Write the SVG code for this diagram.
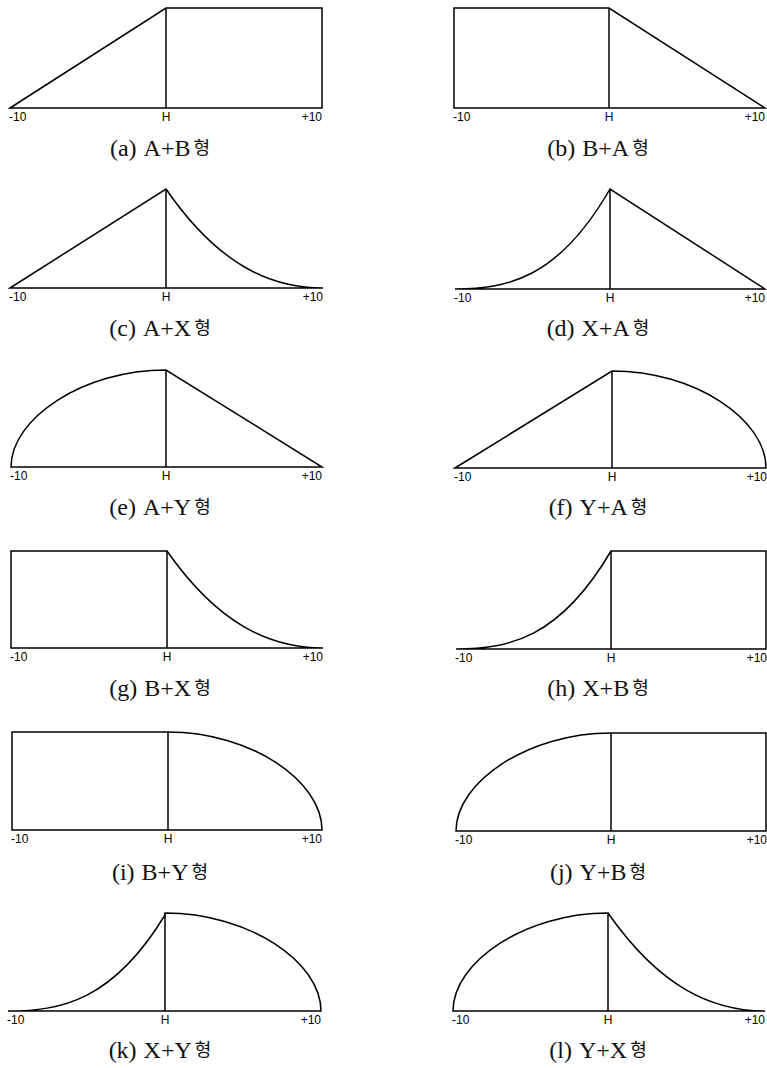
<svg xmlns="http://www.w3.org/2000/svg" width="767" height="1068" viewBox="0 0 767 1068">
<style>
  .shape { fill: none; stroke: #000; stroke-width: 1.5; stroke-linejoin: miter; }
  .hline { fill: none; stroke: #000; stroke-width: 1.5; }
  .ax { font-family: "Liberation Sans", Arial, sans-serif; font-size: 12px; fill: #000; }
  .cap { font-family: "Liberation Serif", "Times New Roman", serif; font-size: 24px; fill: #111; }
  .ko { font-family: "Noto Sans CJK KR", "Noto Sans", sans-serif; font-size: 18px; }
</style>
<rect width="767" height="1068" fill="#fff"/>

<g id="panel-a">
  <path class="shape" d="M10,108 L166,8 L322,8 L322,108 Z"/>
  <path class="hline" d="M166,8 V108"/>
  <text class="ax" x="9" y="121">-10</text>
  <text class="ax" x="166" y="121" text-anchor="middle">H</text>
  <text class="ax" x="322" y="121" text-anchor="end">+10</text>
  <text class="cap" x="160" y="156" text-anchor="middle">(a)<tspan dx="7">A+B</tspan><tspan class="ko" dx="3" dy="-2">형</tspan></text>
</g>

<g id="panel-b">
  <path class="shape" d="M454,108 V8 H609 L765,108 Z"/>
  <path class="hline" d="M609,8 V108"/>
  <text class="ax" x="453" y="121">-10</text>
  <text class="ax" x="609" y="121" text-anchor="middle">H</text>
  <text class="ax" x="765" y="121" text-anchor="end">+10</text>
  <text class="cap" x="598" y="156" text-anchor="middle">(b)<tspan dx="7">B+A</tspan><tspan class="ko" dx="3" dy="-2">형</tspan></text>
</g>

<g id="panel-c">
  <path class="shape" d="M10,288 L166,189 C218.3,265 270.7,288 323,288 Z"/>
  <path class="hline" d="M166,189 V288"/>
  <text class="ax" x="9" y="301">-10</text>
  <text class="ax" x="166" y="301" text-anchor="middle">H</text>
  <text class="ax" x="323" y="301" text-anchor="end">+10</text>
  <text class="cap" x="160" y="336" text-anchor="middle">(c)<tspan dx="7">A+X</tspan><tspan class="ko" dx="3" dy="-2">형</tspan></text>
</g>

<g id="panel-d">
  <path class="shape" d="M455,289 C506.7,289 558.3,279 610,189 L765,289 Z"/>
  <path class="hline" d="M610,189 V289"/>
  <text class="ax" x="454" y="302">-10</text>
  <text class="ax" x="610" y="302" text-anchor="middle">H</text>
  <text class="ax" x="765" y="302" text-anchor="end">+10</text>
  <text class="cap" x="598" y="336" text-anchor="middle">(d)<tspan dx="7">X+A</tspan><tspan class="ko" dx="3" dy="-2">형</tspan></text>
</g>

<g id="panel-e">
  <path class="shape" d="M11,467 C11,418.5 83,370 166,370 L322,467 Z"/>
  <path class="hline" d="M166,370 V467"/>
  <text class="ax" x="10" y="480">-10</text>
  <text class="ax" x="166" y="480" text-anchor="middle">H</text>
  <text class="ax" x="322" y="480" text-anchor="end">+10</text>
  <text class="cap" x="160" y="515" text-anchor="middle">(e)<tspan dx="7">A+Y</tspan><tspan class="ko" dx="3" dy="-2">형</tspan></text>
</g>

<g id="panel-f">
  <path class="shape" d="M455,468 L612,371 C695,371 766,419.5 766,468 Z"/>
  <path class="hline" d="M612,371 V468"/>
  <text class="ax" x="454" y="481">-10</text>
  <text class="ax" x="612" y="481" text-anchor="middle">H</text>
  <text class="ax" x="767" y="481" text-anchor="end">+10</text>
  <text class="cap" x="598" y="515" text-anchor="middle">(f)<tspan dx="7">Y+A</tspan><tspan class="ko" dx="3" dy="-2">형</tspan></text>
</g>

<g id="panel-g">
  <path class="shape" d="M11,648 V551 H167 C219,625.4 271,648 323,648 Z"/>
  <path class="hline" d="M167,551 V648"/>
  <text class="ax" x="10" y="661">-10</text>
  <text class="ax" x="167" y="661" text-anchor="middle">H</text>
  <text class="ax" x="323" y="661" text-anchor="end">+10</text>
  <text class="cap" x="160" y="696" text-anchor="middle">(g)<tspan dx="7">B+X</tspan><tspan class="ko" dx="3" dy="-2">형</tspan></text>
</g>

<g id="panel-h">
  <path class="shape" d="M456,649 C507.7,649 559.3,639.2 611,551 H766 V649 Z"/>
  <path class="hline" d="M611,551 V649"/>
  <text class="ax" x="455" y="662">-10</text>
  <text class="ax" x="611" y="662" text-anchor="middle">H</text>
  <text class="ax" x="767" y="662" text-anchor="end">+10</text>
  <text class="cap" x="598" y="696" text-anchor="middle">(h)<tspan dx="7">X+B</tspan><tspan class="ko" dx="3" dy="-2">형</tspan></text>
</g>

<g id="panel-i">
  <path class="shape" d="M12,830 V732 H168 C251,732 322,781 322,830 Z"/>
  <path class="hline" d="M168,732 V830"/>
  <text class="ax" x="11" y="843">-10</text>
  <text class="ax" x="168" y="843" text-anchor="middle">H</text>
  <text class="ax" x="322" y="843" text-anchor="end">+10</text>
  <text class="cap" x="160" y="880" text-anchor="middle">(i)<tspan dx="7">B+Y</tspan><tspan class="ko" dx="3" dy="-2">형</tspan></text>
</g>

<g id="panel-j">
  <path class="shape" d="M456,831 C456,782 528,733 611,733 H766 V831 Z"/>
  <path class="hline" d="M611,733 V831"/>
  <text class="ax" x="455" y="844">-10</text>
  <text class="ax" x="611" y="844" text-anchor="middle">H</text>
  <text class="ax" x="767" y="844" text-anchor="end">+10</text>
  <text class="cap" x="598" y="880" text-anchor="middle">(j)<tspan dx="7">Y+B</tspan><tspan class="ko" dx="3" dy="-2">형</tspan></text>
</g>

<g id="panel-k">
  <path class="shape" d="M8,1011 C60.3,1011 112.7,1001.2 165,915 L165,913 C249,913 321,962 321,1011 Z"/>
  <path class="hline" d="M165,913 V1011"/>
  <text class="ax" x="7" y="1024">-10</text>
  <text class="ax" x="165" y="1024" text-anchor="middle">H</text>
  <text class="ax" x="321" y="1024" text-anchor="end">+10</text>
  <text class="cap" x="160" y="1058" text-anchor="middle">(k)<tspan dx="7">X+Y</tspan><tspan class="ko" dx="3" dy="-2">형</tspan></text>
</g>

<g id="panel-l">
  <path class="shape" d="M453,1011 C453,962 525,913 608,913 C660.3,988 712.7,1011 765,1011 Z"/>
  <path class="hline" d="M608,913 V1011"/>
  <text class="ax" x="452" y="1024">-10</text>
  <text class="ax" x="608" y="1024" text-anchor="middle">H</text>
  <text class="ax" x="765" y="1024" text-anchor="end">+10</text>
  <text class="cap" x="598" y="1058" text-anchor="middle">(l)<tspan dx="7">Y+X</tspan><tspan class="ko" dx="3" dy="-2">형</tspan></text>
</g>
</svg>
